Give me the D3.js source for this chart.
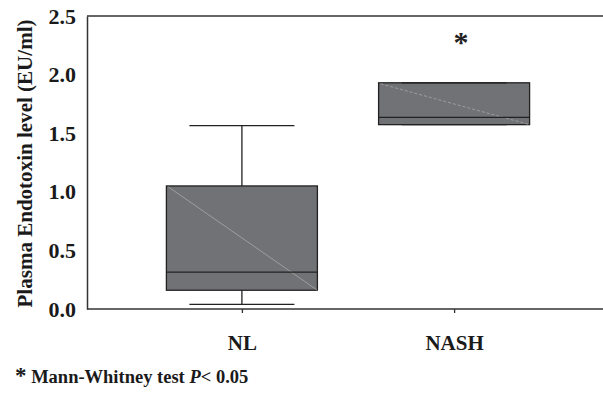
<!DOCTYPE html>
<html><head><meta charset="utf-8">
<script src="https://cdn.jsdelivr.net/npm/d3@7"></script>
<style>body{margin:0;background:#fff}svg{display:block}</style>
</head><body><div id="chart"></div>
<script>
const categories = ["NL", "NASH"];
const whiskerLow = [0.04, 1.573];
const q1 = [0.16, 1.573];
const median = [0.315, 1.635];
const q3 = [1.05, 1.93];
const whiskerHigh = [1.565, 1.93];
const yTicks = [0, 0.5, 1.0, 1.5, 2.0, 2.5];
const significant = [false, true];

const W = 603, H = 394;
const pLeft = 87, pRight = 603, pTop = 16, pBottom = 309;
const font = "'Liberation Serif','Times New Roman',serif";

const svg = d3.select("#chart").append("svg").attr("width", W).attr("height", H);

const y = d3.scaleLinear().domain([0, 2.5]).range([pBottom, pTop]);
const x = d3.scalePoint().domain(categories).range([pLeft, 609]).padding(0.73);

const boxW = 151, capW = 105;
const data = categories.map((c, i) => ({c, lo: whiskerLow[i], q1: q1[i], med: median[i], q3: q3[i], hi: whiskerHigh[i], sig: significant[i]}));

const g = svg.append("g");
data.forEach((d, i) => {
  const cx = x(d.c);
  g.append("line").attr("x1", cx).attr("x2", cx).attr("y1", y(d.q3)).attr("y2", y(d.hi)).attr("stroke", "#222").attr("stroke-width", 1.3);
  g.append("line").attr("x1", cx).attr("x2", cx).attr("y1", y(d.q1)).attr("y2", y(d.lo)).attr("stroke", "#222").attr("stroke-width", 1.3);
  g.append("rect").attr("x", cx - boxW / 2).attr("y", y(d.q3)).attr("width", boxW).attr("height", y(d.q1) - y(d.q3))
    .attr("fill", "#717275").attr("stroke", "#222").attr("stroke-width", 1.3);
  g.append("line").attr("x1", cx - boxW / 2 + 2).attr("y1", y(d.q3) + 1).attr("x2", cx + boxW / 2).attr("y2", y(d.q1))
    .attr("stroke", "#a8a8aa").attr("stroke-width", 0.8).attr("stroke-dasharray", i === 1 ? "3,2" : null);
  g.append("line").attr("x1", cx - boxW / 2).attr("x2", cx + boxW / 2).attr("y1", y(d.med)).attr("y2", y(d.med)).attr("stroke", "#222").attr("stroke-width", 1.3);
  [d.lo, d.hi].forEach(v => {
    g.append("line").attr("x1", cx - capW / 2).attr("x2", cx + capW / 2).attr("y1", y(v)).attr("y2", y(v)).attr("stroke", "#222").attr("stroke-width", 1.3);
  });
  if (d.sig) {
    g.append("text").attr("x", cx + 7).attr("y", y(d.hi) - 31).attr("text-anchor", "middle")
      .attr("font-family", font).attr("font-weight", "bold").attr("font-size", 30).attr("fill", "#222").text("*");
  }
});

svg.append("line").attr("x1", pLeft).attr("x2", pRight).attr("y1", pTop).attr("y2", pTop).attr("stroke", "#333").attr("stroke-width", 1.5);
svg.append("line").attr("x1", pLeft).attr("x2", pRight).attr("y1", pBottom).attr("y2", pBottom).attr("stroke", "#333").attr("stroke-width", 1.5);

const yAxis = svg.append("g").attr("transform", `translate(${pLeft},0)`)
  .call(d3.axisLeft(y).tickValues(yTicks).tickFormat(d3.format(".1f")).tickSize(0).tickPadding(11));
yAxis.select(".domain").attr("stroke", "#333").attr("stroke-width", 1.5);
yAxis.selectAll("text").attr("font-family", font).attr("font-weight", "bold").attr("font-size", 22).attr("fill", "#1a1a1a").attr("dy", "0.32em");

const xAxis = svg.append("g").attr("transform", `translate(0,${pBottom})`)
  .call(d3.axisBottom(x).tickSize(4).tickPadding(22));
xAxis.select(".domain").remove();
xAxis.selectAll(".tick line").attr("stroke", "#333").attr("stroke-width", 1.3);
xAxis.selectAll("text").attr("font-family", font).attr("font-weight", "bold").attr("font-size", 21).attr("fill", "#1a1a1a");

svg.append("text").attr("transform", `translate(32,${(pTop + pBottom) / 2 + 1}) rotate(-90)`).attr("text-anchor", "middle")
  .attr("font-family", font).attr("font-weight", "bold").attr("font-size", 20).attr("fill", "#1a1a1a")
  .attr("textLength", 288).attr("lengthAdjust", "spacingAndGlyphs")
  .text("Plasma Endotoxin level (EU/ml)");

const fn = svg.append("text").attr("x", 15).attr("y", 383).attr("font-family", font).attr("font-weight", "bold").attr("font-size", 18.5).attr("fill", "#1a1a1a");
fn.append("tspan").attr("font-size", 23).text("*");
fn.append("tspan").text(" Mann-Whitney test ");
fn.append("tspan").attr("font-style", "italic").text("P");
fn.append("tspan").text("< 0.05");
</script>
</body></html>
